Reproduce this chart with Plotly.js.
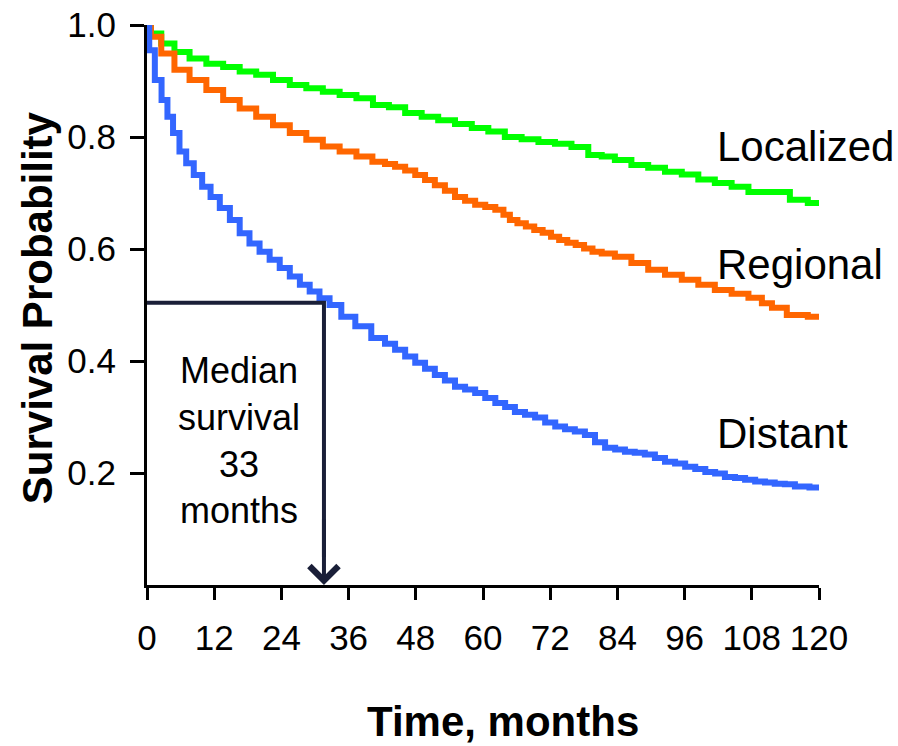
<!DOCTYPE html>
<html>
<head>
<meta charset="utf-8">
<script src="https://cdn.plot.ly/plotly-3.0.1.min.js"></script>
<style>
  html, body { margin: 0; padding: 0; background: #ffffff; }
  #chart { width: 898px; height: 746px; }
</style>
</head>
<body>
<div id="chart"></div>
<script>
// ---- Data ----
const localizedMonths = [0, 1.4, 3.7, 6.1, 9.1, 12.1, 15.1, 18.0, 21.0, 24.0, 27.0, 29.9, 32.9, 35.9, 38.9, 41.8, 44.6, 47.6, 50.5, 53.5, 56.5, 59.5, 62.4, 65.4, 68.4, 71.4, 74.3, 77.3, 80.3, 82.1, 85.0, 88.0, 91.0, 94.0, 97.0, 99.9, 102.9, 105.9, 108.9, 113.6, 116.0, 120];
const localizedSurvival = [1.0, 0.985, 0.967, 0.952, 0.940, 0.931, 0.925, 0.917, 0.911, 0.902, 0.893, 0.887, 0.881, 0.875, 0.869, 0.857, 0.853, 0.843, 0.836, 0.830, 0.823, 0.816, 0.810, 0.800, 0.796, 0.791, 0.788, 0.782, 0.768, 0.765, 0.759, 0.750, 0.745, 0.738, 0.733, 0.724, 0.718, 0.711, 0.702, 0.702, 0.688, 0.682];

const regionalMonths = [0, 1.4, 3.7, 6.1, 9.1, 12.1, 15.1, 18.0, 21.0, 24.0, 27.0, 29.9, 32.9, 35.9, 38.9, 41.6, 43.4, 45.2, 47.0, 48.8, 50.5, 52.3, 54.1, 55.9, 57.7, 59.5, 61.3, 63.1, 64.2, 65.4, 66.9, 68.4, 69.9, 71.4, 72.9, 74.3, 75.8, 77.3, 78.8, 80.3, 82.1, 85.0, 88.0, 91.0, 94.0, 97.0, 99.9, 102.9, 105.9, 108.9, 110.7, 112.5, 116.0, 120];
const regionalSurvival = [1.0, 0.979, 0.949, 0.920, 0.902, 0.884, 0.866, 0.851, 0.836, 0.821, 0.807, 0.795, 0.783, 0.774, 0.765, 0.756, 0.752, 0.747, 0.740, 0.732, 0.723, 0.714, 0.704, 0.693, 0.686, 0.679, 0.675, 0.670, 0.661, 0.652, 0.646, 0.640, 0.634, 0.629, 0.622, 0.616, 0.611, 0.607, 0.601, 0.595, 0.592, 0.586, 0.575, 0.563, 0.554, 0.545, 0.536, 0.527, 0.520, 0.513, 0.503, 0.495, 0.482, 0.479];

const distantMonths = [0, 0.8, 2.0, 3.2, 4.1, 5.2, 6.4, 7.6, 9.1, 10.6, 12.1, 13.9, 15.7, 17.4, 19.2, 21.0, 22.8, 24.6, 26.4, 28.2, 29.9, 31.7, 33.5, 35.9, 38.5, 41.6, 43.4, 45.2, 47.0, 48.8, 50.5, 52.3, 54.1, 55.9, 57.7, 59.5, 61.3, 63.1, 64.8, 66.6, 68.4, 70.2, 72.0, 73.8, 75.5, 77.3, 79.1, 80.9, 82.7, 84.5, 86.2, 88.0, 89.8, 91.6, 93.4, 95.2, 97.0, 98.8, 100.6, 102.3, 104.1, 105.9, 107.7, 109.5, 111.2, 113.0, 114.8, 116.6, 120];
const distantSurvival = [1.0, 0.955, 0.902, 0.866, 0.836, 0.807, 0.774, 0.753, 0.732, 0.711, 0.693, 0.673, 0.652, 0.628, 0.610, 0.595, 0.581, 0.566, 0.551, 0.536, 0.524, 0.512, 0.500, 0.479, 0.462, 0.441, 0.431, 0.420, 0.408, 0.397, 0.386, 0.375, 0.365, 0.354, 0.349, 0.343, 0.334, 0.325, 0.318, 0.309, 0.304, 0.299, 0.290, 0.283, 0.278, 0.274, 0.268, 0.255, 0.245, 0.242, 0.238, 0.236, 0.233, 0.227, 0.220, 0.217, 0.211, 0.207, 0.202, 0.199, 0.193, 0.191, 0.188, 0.185, 0.183, 0.181, 0.180, 0.176, 0.174];

const seriesNames = ["Localized", "Regional", "Distant"];
const xTickVals = [0, 12, 24, 36, 48, 60, 72, 84, 96, 108, 120];
const yTickVals = [0.2, 0.4, 0.6, 0.8, 1.0];
const yTickText = ["0.2", "0.4", "0.6", "0.8", "1.0"];
const medianMonth = 31.6;     // where the drawn median marker sits
const medianProb = 0.504;
const medianLabel = "Median<br>survival<br>33<br>months";

// ---- Styling ----
const FONT = "Liberation Sans, Arial, Helvetica, sans-serif";
const colors = ["#00ff00", "#ff6600", "#3366ff"];
const navy = "#1a1f38";

const months = [localizedMonths, regionalMonths, distantMonths];
const surv = [localizedSurvival, regionalSurvival, distantSurvival];

const traces = seriesNames.map((name, i) => ({
  type: "scatter",
  mode: "lines",
  name: name,
  x: months[i],
  y: surv[i],
  line: { color: colors[i], width: 6, shape: "hvh" },
  hoverinfo: "x+y+name"
}));

const labelY = [0.783, 0.573, 0.270];
const curveLabels = seriesNames.map((name, i) => ({
  xref: "x", yref: "y",
  x: 101.4, y: labelY[i],
  xanchor: "left", yanchor: "middle",
  text: name, showarrow: false,
  font: { family: FONT, size: 42, color: "#000000" }
}));

const layout = {
  width: 898, height: 746,
  margin: { l: 147, r: 79, t: 25, b: 161, pad: 0 },
  paper_bgcolor: "#ffffff",
  plot_bgcolor: "#ffffff",
  showlegend: false,
  font: { family: FONT, color: "#000000" },
  xaxis: {
    range: [0, 120],
    tickvals: xTickVals,
    ticktext: xTickVals.map(String),
    ticks: "outside", ticklen: 12, tickwidth: 3, tickcolor: "#000000",
    ticklabelstandoff: 8,
    showline: true, linewidth: 3, linecolor: "#000000",
    showgrid: false, zeroline: false,
    tickfont: { family: FONT, size: 35, color: "#000000" },
    fixedrange: true
  },
  yaxis: {
    range: [0, 1],
    tickvals: yTickVals,
    ticktext: yTickText,
    ticks: "outside", ticklen: 14, tickwidth: 3, tickcolor: "#000000",
    ticklabelstandoff: 7,
    showline: true, linewidth: 3, linecolor: "#000000",
    showgrid: false, zeroline: false,
    tickfont: { family: FONT, size: 35, color: "#000000" },
    fixedrange: true
  },
  shapes: [{
    type: "path", xref: "x", yref: "y",
    path: "M 0," + medianProb + " L " + medianMonth + "," + medianProb + " L " + medianMonth + ",0.05",
    line: { color: navy, width: 4 },
    layer: "above"
  }],
  annotations: curveLabels.concat([
    {
      xref: "x", yref: "y",
      x: medianMonth, y: 0,
      axref: "x", ayref: "y",
      ax: medianMonth, ay: 0.12,
      text: "", showarrow: true,
      arrowhead: 4, arrowsize: 1.4, arrowwidth: 4, arrowcolor: navy,
      standoff: 0
    },
    {
      xref: "x", yref: "y",
      x: 16.4, y: 0.258,
      xanchor: "center", yanchor: "middle",
      text: medianLabel, showarrow: false, align: "center",
      font: { family: FONT, size: 36, color: "#000000" }
    },
    {
      xref: "paper", yref: "paper",
      x: 0.530, y: -0.2437,
      xanchor: "center", yanchor: "middle",
      text: "<b>Time, months</b>", showarrow: false,
      font: { family: FONT, size: 42, color: "#000000" }
    },
    {
      xref: "paper", yref: "paper",
      x: -0.1637, y: 0.496,
      xanchor: "center", yanchor: "middle",
      textangle: -90,
      text: "<b>Survival Probability</b>", showarrow: false,
      font: { family: FONT, size: 42, color: "#000000" }
    }
  ])
};

Plotly.newPlot("chart", traces, layout, { displayModeBar: false, staticPlot: true });
</script>
</body>
</html>
